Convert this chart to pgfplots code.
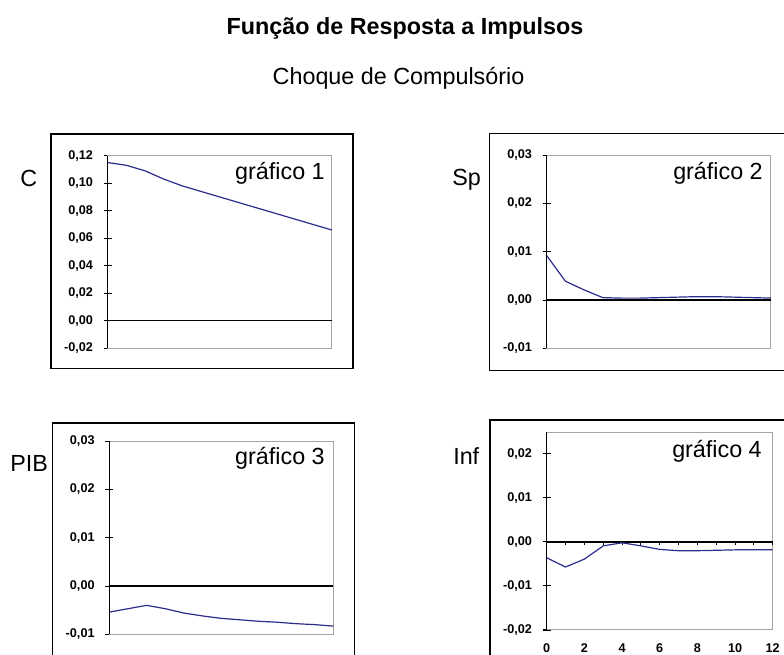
\documentclass[border=0pt]{standalone}
\usepackage{pgfplots}
\pgfplotsset{compat=1.18}
\usepackage{fontspec}
\setmainfont{Liberation Sans}
\definecolor{irfblue}{RGB}{45,45,140}
\definecolor{frm}{RGB}{165,165,165}
\newcommand{\bigf}{\fontsize{17.5}{20}\selectfont}
\pgfplotsset{
 irfaxis/.style={
  scale only axis, anchor=south west,
  xmin=0, xmax=12,
  axis line style={frm, line width=0.75pt},
  xtick=\empty,
  ytick pos=left,
  tick align=center,
  major tick length=6pt,
  tick style={black, line width=0.8pt},
  scaled y ticks=false,
  /pgf/number format/assume math mode=true,
  yticklabel style={font=\fontsize{9.5}{10}\selectfont\bfseries, xshift=-4.5pt,
    /pgf/number format/fixed, /pgf/number format/fixed zerofill,
    /pgf/number format/precision=2, /pgf/number format/use comma},
  clip=false,
 },
}
\begin{document}
\begin{tikzpicture}
\path[use as bounding box, clip] (0,0) rectangle (588pt,491.25pt);
\fill[white] (0,0) rectangle (588pt,491.25pt);
\node[anchor=base, inner sep=0] at (303.75pt,465pt) {\bigf\bfseries Função de Resposta a Impulsos};
\node[anchor=base, inner sep=0] at (298.9pt,427.5pt) {\bigf Choque de Compulsório};
% outer boxes
\draw[line width=1.1pt] (38.25pt,215.03pt) rectangle (264.75pt,390.75pt);
\draw[line width=1.1pt] (367.1pt,213.2pt) rectangle (600pt,391.3pt);
\draw[line width=1.1pt] (39.4pt,-20pt) rectangle (266pt,174pt);
\draw[line width=1.1pt] (367.5pt,-20pt) rectangle (600pt,176.25pt);
% row labels
\node[anchor=base west, inner sep=0] at (15pt,351pt) {\bigf C};
\node[anchor=base west, inner sep=0] at (339pt,351.75pt) {\bigf Sp};
\node[anchor=base west, inner sep=0] at (7.5pt,137.25pt) {\bigf PIB};
\node[anchor=base west, inner sep=0] at (339.75pt,142.5pt) {\bigf Inf};
% panel 1
\begin{axis}[irfaxis, at={(80.78pt,230.03pt)}, width=168pt, height=144.45pt,
  ymin=-0.02, ymax=0.12, ytick={-0.02,0,0.02,0.04,0.06,0.08,0.10,0.12}]
\draw[black, line width=0.9pt] (axis cs:0,0) -- (axis cs:12,0);
\addplot[irfblue, line width=0.9pt, no marks] coordinates {
(0,0.115) (1,0.113) (2,0.109) (3,0.103) (4,0.098) (5,0.094) (6,0.090)
(7,0.086) (8,0.082) (9,0.078) (10,0.074) (11,0.070) (12,0.066)};
\draw[black, line width=1.1pt] (rel axis cs:0,0) -- (rel axis cs:0,1);
\end{axis}
% panel 2
\begin{axis}[irfaxis, at={(410.03pt,230.03pt)}, width=168.2pt, height=144.75pt,
  ymin=-0.01, ymax=0.03, ytick={-0.01,0,0.01,0.02,0.03}]
\draw[black, line width=0.9pt] (axis cs:0,0) -- (axis cs:12,0);
\addplot[irfblue, line width=0.9pt, no marks] coordinates {
(0,0.0092) (1,0.0039) (2,0.0021) (3,0.0005) (4,0.0004) (5,0.0004) (6,0.0005)
(7,0.0006) (8,0.0007) (9,0.0007) (10,0.0006) (11,0.0005) (12,0.0004)};
\draw[black, line width=1.1pt] (rel axis cs:0,0) -- (rel axis cs:0,1);
\end{axis}
% panel 3
\begin{axis}[irfaxis, at={(81.98pt,15.53pt)}, width=168pt, height=144.75pt,
  ymin=-0.01, ymax=0.03, ytick={-0.01,0,0.01,0.02,0.03}]
\draw[black, line width=0.9pt] (axis cs:0,0) -- (axis cs:12,0);
\addplot[irfblue, line width=0.9pt, no marks] coordinates {
(0,-0.0054) (1,-0.0047) (2,-0.0040) (3,-0.0047) (4,-0.0056) (5,-0.0062) (6,-0.0067)
(7,-0.0070) (8,-0.0073) (9,-0.0075) (10,-0.0078) (11,-0.0080) (12,-0.0083)};
\draw[black, line width=1.1pt] (rel axis cs:0,0) -- (rel axis cs:0,1);
\end{axis}
% panel 4
\begin{axis}[irfaxis, at={(410.03pt,18.75pt)}, width=169.5pt, height=148.3pt,
  ymin=-0.02, ymax=0.0249, ytick={-0.02,-0.01,0,0.01,0.02},
  xtick={0,2,4,6,8,10,12}, xtick pos=bottom, xtick style={draw=none},
  xticklabel style={font=\fontsize{9.5}{10}\selectfont\bfseries, yshift=-4pt}]
\draw[black, line width=0.9pt] (axis cs:0,0) -- (axis cs:12,0);
\pgfplotsinvokeforeach{1,...,12}{\draw[black, line width=0.75pt] (axis cs:#1,0) -- ([yshift=-2.5pt]axis cs:#1,0);}
\addplot[irfblue, line width=0.9pt, no marks] coordinates {
(0,-0.0036) (1,-0.0057) (2,-0.0039) (3,-0.0009) (4,-0.0002) (5,-0.0009) (6,-0.0017)
(7,-0.0020) (8,-0.0020) (9,-0.0019) (10,-0.0018) (11,-0.0018) (12,-0.0018)};
\draw[black, line width=1.1pt] (rel axis cs:0,0) -- (rel axis cs:0,1);
\end{axis}
% panel labels
\node[anchor=base east, inner sep=0] at (243.75pt,356.25pt) {\bigf gráfico 1};
\node[anchor=base east, inner sep=0] at (572.25pt,356.25pt) {\bigf gráfico 2};
\node[anchor=base east, inner sep=0] at (243.75pt,142.5pt) {\bigf gráfico 3};
\node[anchor=base east, inner sep=0] at (571.5pt,147.75pt) {\bigf gráfico 4};
\end{tikzpicture}
\end{document}
